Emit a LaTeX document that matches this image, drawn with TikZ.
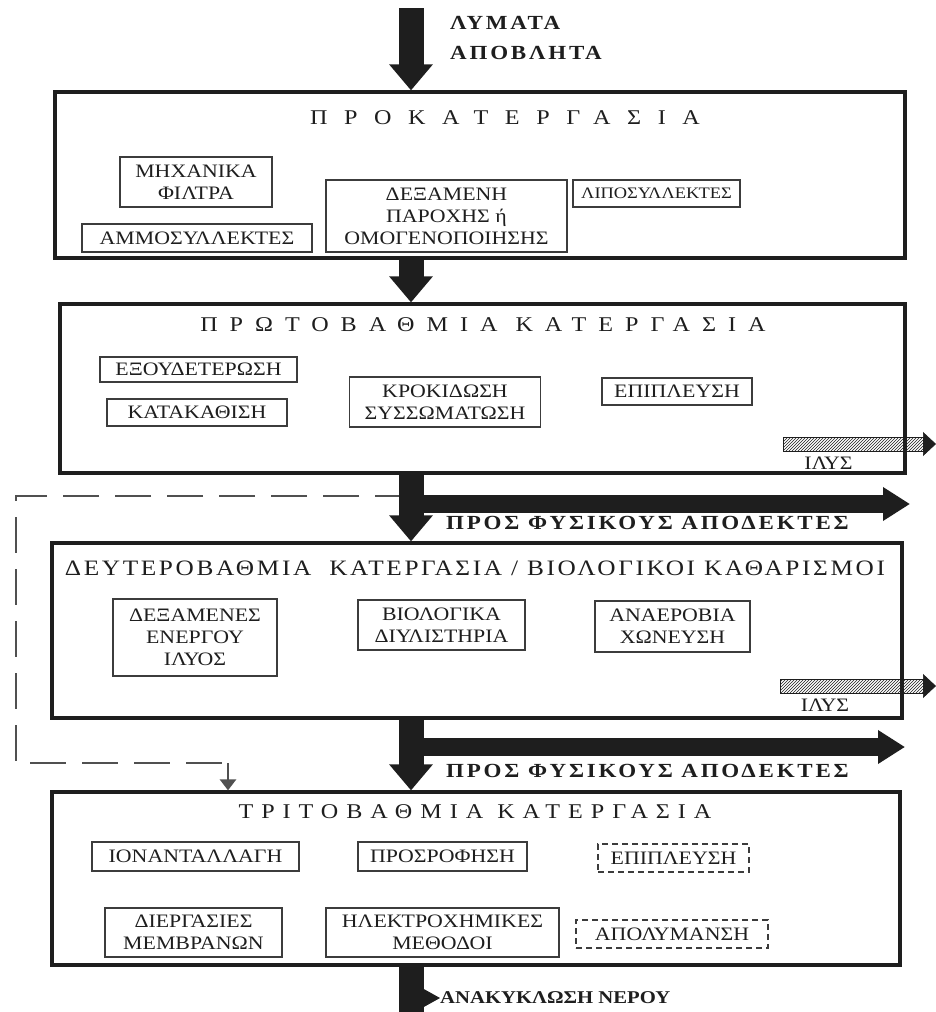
\documentclass[tikz,border=0pt]{standalone}
\usepackage{fontspec}
\setmainfont{Liberation Serif}[FakeStretch=1.15]
\usetikzlibrary{arrows.meta,positioning,patterns}
\definecolor{inkdark}{RGB}{30,30,30}
\definecolor{inkgrey}{RGB}{60,60,60}
\definecolor{dashgrey}{RGB}{80,80,80}
\newcommand{\unitfont}{\fontsize{19}{22}\selectfont}
\newcommand{\stagefont}[1]{\fontsize{21}{24}\selectfont\addfontfeature{LetterSpace=#1}}
\newcommand{\outfont}{\fontsize{20}{30}\selectfont\bfseries\addfontfeature{LetterSpace=14}}

\begin{document}
\begin{tikzpicture}[x=1pt,y=-1pt,
  stage/.style={draw=inkdark,line width=3.2pt,inner sep=0pt},
  unit/.style={draw=inkgrey,line width=1.4pt,inner sep=0pt,align=center,text=inkdark,font=\unitfont},
  unitdash/.style={unit,dash pattern=on 6pt off 4pt},
  title/.style={inner sep=0pt,text=inkdark},
  flow/.style={draw=inkdark,line width=25pt,-{Triangle[width=42pt,length=26pt]}},
  outflow/.style={draw=inkdark,line width=18pt,-{Triangle[width=32pt,length=27pt]}},
  sludge/.style={draw=inkdark,line width=0.8pt,pattern=north east lines,pattern color=inkdark,minimum height=14pt,inner sep=0pt,anchor=west},
  sludgehead/.style={draw=inkdark,line width=0.6pt,-{Triangle[width=24pt,length=13pt]}},
  bypass/.style={draw=dashgrey,line width=2.5pt,dash pattern=on 36pt off 16pt},
  outlabel/.style={inner sep=0pt,text=inkdark,font=\outfont,anchor=west,align=left}]
\useasboundingbox (0,0) rectangle (936,1012);

% stages
\node[stage,minimum width=850pt,minimum height=166pt] (pre) at (480,175) {};
\node[stage,minimum width=845pt,minimum height=169pt] (prim) at (482.5,388.5) {};
\node[stage,minimum width=850pt,minimum height=175pt] (sec) at (477,630.5) {};
\node[stage,minimum width=848pt,minimum height=173pt] (tert) at (476,878.5) {};

\node[title,font=\stagefont{79}] (preT) at (505,118) {ΠΡΟΚΑΤΕΡΓΑΣΙΑ};
\node[title,font=\stagefont{57}] (primT) at (483,325) {ΠΡΩΤΟΒΑΘΜΙΑ ΚΑΤΕΡΓΑΣΙΑ};
\node[title,font=\fontsize{22}{26}\selectfont\addfontfeature{LetterSpace=12}] (secT) at (475,568) {ΔΕΥΤΕΡΟΒΑΘΜΙΑ\ \ ΚΑΤΕΡΓΑΣΙΑ / ΒΙΟΛΟΓΙΚΟΙ ΚΑΘΑΡΙΣΜΟΙ};
\node[title,font=\stagefont{38}] (tertT) at (475,812) {ΤΡΙΤΟΒΑΘΜΙΑ ΚΑΤΕΡΓΑΣΙΑ};

% pretreatment
\node[unit,minimum width=152pt,minimum height=50pt] (filters) at (196,182) {ΜΗΧΑΝΙΚΑ\\ΦΙΛΤΡΑ};
\node[unit,minimum width=230pt,minimum height=28pt] (grit) at (197,238) {ΑΜΜΟΣΥΛΛΕΚΤΕΣ};
\node[unit,minimum width=241pt,minimum height=72pt] (equal) at (446.5,216) {ΔΕΞΑΜΕΝΗ\\ΠΑΡΟΧΗΣ ή\\ΟΜΟΓΕΝΟΠΟΙΗΣΗΣ};
\node[unit,minimum width=167pt,minimum height=27pt,font=\fontsize{16}{18}\selectfont] (grease) at (656.5,193.5) {ΛΙΠΟΣΥΛΛΕΚΤΕΣ};

% primary
\node[unit,minimum width=197pt,minimum height=25pt] (neutral) at (198.5,369.5) {ΕΞΟΥΔΕΤΕΡΩΣΗ};
\node[unit,minimum width=180pt,minimum height=27pt] (settle) at (197,412.5) {ΚΑΤΑΚΑΘΙΣΗ};
\node[unit,minimum width=191pt,minimum height=50pt] (floc) at (445,402) {ΚΡΟΚΙΔΩΣΗ\\ΣΥΣΣΩΜΑΤΩΣΗ};
\node[unit,minimum width=150pt,minimum height=27pt] (flot) at (677,391.5) {ΕΠΙΠΛΕΥΣΗ};
\node[sludge,minimum width=140pt] (sl1) at (783,444) {};
\coordinate (sl1tip) at (936,444);
\draw[sludgehead] (sl1.east) -- (sl1tip);
\node[title,font=\unitfont,below=5pt of sl1,xshift=-25pt] (ilys1) {ΙΛΥΣ};

% secondary
\node[unit,minimum width=164pt,minimum height=77pt] (activ) at (195,637.5) {ΔΕΞΑΜΕΝΕΣ\\ΕΝΕΡΓΟΥ\\ΙΛΥΟΣ};
\node[unit,minimum width=167pt,minimum height=50pt] (biofilt) at (441.5,625) {ΒΙΟΛΟΓΙΚΑ\\ΔΙΥΛΙΣΤΗΡΙΑ};
\node[unit,minimum width=155pt,minimum height=51pt] (anaer) at (672.5,626.5) {ΑΝΑΕΡΟΒΙΑ\\ΧΩΝΕΥΣΗ};
\node[sludge,minimum width=143pt] (sl2) at (780,686) {};
\coordinate (sl2tip) at (936,686);
\draw[sludgehead] (sl2.east) -- (sl2tip);
\node[title,font=\unitfont,below=5pt of sl2,xshift=-27pt] (ilys2) {ΙΛΥΣ};

% tertiary
\node[unit,minimum width=207pt,minimum height=29pt] (ionex) at (195.5,856.5) {ΙΟΝΑΝΤΑΛΛΑΓΗ};
\node[unit,minimum width=169pt,minimum height=29pt] (adsorb) at (442.5,856.5) {ΠΡΟΣΡΟΦΗΣΗ};
\node[unitdash,minimum width=151pt,minimum height=28pt] (flot2) at (673.5,858) {ΕΠΙΠΛΕΥΣΗ};
\node[unit,minimum width=177pt,minimum height=49pt] (membr) at (193.5,932.5) {ΔΙΕΡΓΑΣΙΕΣ\\ΜΕΜΒΡΑΝΩΝ};
\node[unit,minimum width=233pt,minimum height=49pt] (electro) at (442.5,932.5) {ΗΛΕΚΤΡΟΧΗΜΙΚΕΣ\\ΜΕΘΟΔΟΙ};
\node[unitdash,minimum width=192pt,minimum height=28pt] (disinf) at (672,934) {ΑΠΟΛΥΜΑΝΣΗ};

% bypass to tertiary
\coordinate (feed) at (411,8);
\coordinate (bp1) at (16,496);
\coordinate (bp2) at (228,763);
\draw[bypass] (bp1 -| feed) -- (bp1) |- (bp2);
\draw[draw=dashgrey,line width=2.5pt,-{Triangle[width=16pt,length=11pt]}] (bp2) -- (bp2 |- tert.north);

% main flow
\node[outlabel] (inflow) at (450,38) {ΛΥΜΑΤΑ\\ΑΠΟΒΛΗΤΑ};
\draw[flow] (feed) -- (feed |- pre.north);
\draw[flow] (feed |- pre.south) -- (feed |- prim.north);
\draw[flow] (feed |- prim.south) -- (feed |- sec.north);
\draw[flow] (feed |- sec.south) -- (feed |- tert.north);
\coordinate (sea1) at (910,504);
\coordinate (sea2) at (905,747);
\draw[outflow] (sea1 -| feed) -- (sea1);
\draw[outflow] (sea2 -| feed) -- (sea2);
\node[outlabel] (sea1T) at (446,523) {ΠΡΟΣ ΦΥΣΙΚΟΥΣ ΑΠΟΔΕΚΤΕΣ};
\node[outlabel] (sea2T) at (446,771) {ΠΡΟΣ ΦΥΣΙΚΟΥΣ ΑΠΟΔΕΚΤΕΣ};

\coordinate (drain) at (411,1012);
\draw[draw=inkdark,line width=25pt] (feed |- tert.south) -- (drain);
\coordinate (reuse) at (415,998);
\node[outlabel,font=\fontsize{18}{20}\selectfont\bfseries] (reuseT) at (440,998) {ΑΝΑΚΥΚΛΩΣΗ ΝΕΡΟΥ};
\draw[draw=inkdark,line width=1pt,-{Triangle[width=22pt,length=20pt]}] (reuse) -- (reuseT.west);
\end{tikzpicture}
\end{document}
